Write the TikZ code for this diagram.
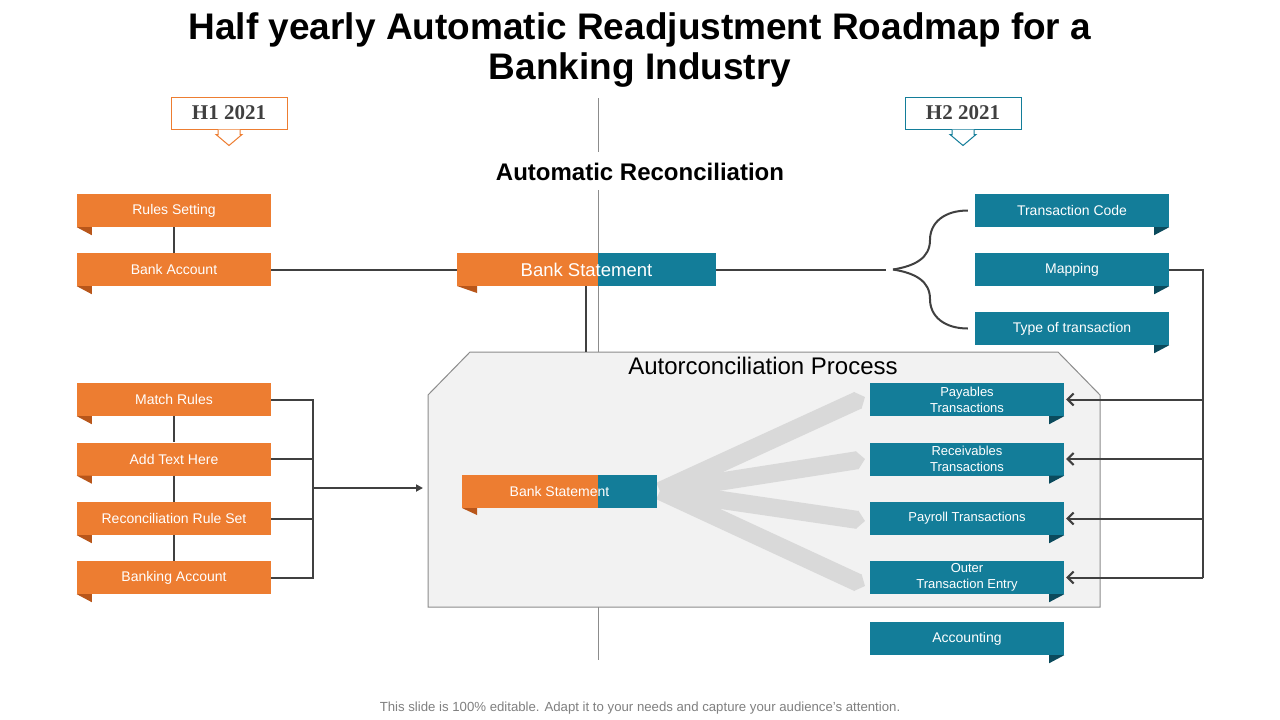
\documentclass[tikz,border=0pt]{standalone}
\usepackage{fontspec}
\setmainfont{Liberation Sans}
\newfontfamily\serifH{Liberation Serif}
\usetikzlibrary{arrows.meta,calc}
\definecolor{orgA}{HTML}{ED7D31}
\definecolor{orgD}{HTML}{B8561A}
\definecolor{tealA}{HTML}{137D99}
\definecolor{tealD}{HTML}{0B4A5C}
\definecolor{lineC}{HTML}{404040}
\definecolor{procF}{HTML}{F2F2F2}
\definecolor{procB}{HTML}{8C8C8C}
\definecolor{fanC}{HTML}{D9D9D9}
\tikzset{
  obox/.style={fill=orgA,text=white,minimum width=194pt,minimum height=33pt,inner sep=0pt,font=\fontsize{14}{16}\selectfont,align=center},
  tbox/.style={fill=tealA,text=white,minimum width=194pt,minimum height=33pt,inner sep=0pt,font=\fontsize{14}{16}\selectfont,align=center},
  conn/.style={draw=lineC,line width=2pt},
  fan/.style={draw=fanC,line width=18pt,-{Triangle[length=8pt,width=18pt]}},
  yearbox/.style={fill=white,line width=1pt,minimum width=116pt,minimum height=32pt,inner sep=0pt,font=\serifH\bfseries\fontsize{21}{22}\selectfont,text=lineC}
}
\begin{document}
\begin{tikzpicture}[x=1pt,y=-1pt]
\useasboundingbox (0,0) rectangle (1280,720);
\fill[white] (0,0) rectangle (1280,720);
% centre divider
\draw[procB,line width=1pt] (598,98) -- (598,152);
\draw[procB,line width=1pt] (598,190) -- (598,660);
% title
\node[font=\bfseries\fontsize{37}{40}\selectfont,align=center] (title) at (640,50) {Half yearly Automatic Readjustment Roadmap for a\\Banking Industry};
% year labels
\node[yearbox,draw=orgA] (h1) at (229,113) {H1 2021};
\draw[orgA,fill=white,line width=1pt] ($(h1.south)+(-11,0)$) -- ++(0,5) -- ++(-2,0) -- ($(h1.south)+(0,16)$) -- ($(h1.south)+(13,5)$) -- ++(-2,0) -- ++(0,-5);
\node[yearbox,draw=tealA] (h2) at (963,113) {H2 2021};
\draw[tealA,fill=white,line width=1pt] ($(h2.south)+(-11,0)$) -- ++(0,5) -- ++(-2,0) -- ($(h2.south)+(0,16)$) -- ($(h2.south)+(13,5)$) -- ++(-2,0) -- ++(0,-5);
\node[font=\bfseries\fontsize{24}{28}\selectfont] (ar) at (640,172) {Automatic Reconciliation};
% process box
\draw[procB,fill=procF,line width=1pt] (428,395) -- (470,352) -- (1058,352) -- (1100,395) -- (1100,607) -- (428,607) -- cycle;
\node[font=\fontsize{24}{28}\selectfont] (pt) at (763,366) {Autorconciliation Process};
% left orange boxes
\node[obox] (rs) at (174,210.5) {Rules Setting};
\node[obox] (ba) at (174,269.5) {Bank Account};
\node[obox] (mr) at (174,399.5) {Match Rules};
\node[obox] (at) at (174,459) {Add Text Here};
\node[obox] (rr) at (174,518.5) {Reconciliation Rule Set};
\node[obox] (bk) at (174,577.5) {Banking Account};
\foreach \n in {rs,ba,mr,at,rr,bk}{
  \fill[orgD] (\n.south west) -- ++(15,0) -- ++(0,8) -- cycle;
}
% right teal boxes
\node[tbox] (tc) at (1072,210.5) {Transaction Code};
\node[tbox] (mp) at (1072,269.5) {Mapping};
\node[tbox] (tt) at (1072,328.5) {Type of transaction};
\node[tbox,font=\fontsize{13}{16}\selectfont] (pay) at (967,399.5) {Payables\\Transactions};
\node[tbox,font=\fontsize{13}{16}\selectfont] (rec) at (967,459) {Receivables\\Transactions};
\node[tbox,font=\fontsize{13}{16}\selectfont] (pyr) at (967,518.5) {Payroll Transactions};
\node[tbox,font=\fontsize{13}{16}\selectfont] (out) at (967,577.5) {Outer\\Transaction Entry};
\node[tbox] (acc) at (967,638.5) {Accounting};
\foreach \n in {tc,mp,tt,pay,rec,pyr,out,acc}{
  \fill[tealD] (\n.south east) -- ++(-15,0) -- ++(0,8) -- cycle;
}
% top bank statement
\fill[orgA] (457,253) rectangle (598,286);
\fill[tealA] (598,253) rectangle (716,286);
\fill[orgD] (457,286) -- (477,286) -- (477,293) -- cycle;
\node[minimum width=259pt,minimum height=33pt,inner sep=0pt,text=white,font=\fontsize{18.5}{20}\selectfont] (bs) at (586.5,269.5) {Bank Statement};
% inner bank statement
\coordinate (fo) at (660,491);
\foreach \n/\y in {pay/397,rec/459,pyr/521,out/586}{
  \draw[fan] (fo) -- (865,\y);
}
\fill[orgA] (462,475) rectangle (598,508);
\fill[tealA] (598,475) rectangle (657,508);
\fill[orgD] (462,508) -- (477,508) -- (477,515) -- cycle;
\node[minimum width=195pt,minimum height=33pt,inner sep=0pt,text=white,font=\fontsize{14}{16}\selectfont] (bs2) at (559.5,491.5) {Bank Statement};
% connectors
\draw[conn] (rs.south) -- (ba.north);
\draw[conn] (mr.south) -- (at.north);
\draw[conn] (at.south) -- (rr.north);
\draw[conn] (rr.south) -- (bk.north);
\draw[conn] (ba.east) -- (bs.west);
\coordinate (btip) at (893,269.5);
\draw[conn] (bs.east) -- ([xshift=-7pt]btip);
\draw[conn] (btip) .. controls (915,266) and (930,258) .. (930,240) .. controls (930,222) and (945,210.5) .. ([xshift=-7pt]tc.west);
\draw[conn] (btip) .. controls (915,273) and (930,281) .. (930,299) .. controls (930,317) and (945,328.5) .. ([xshift=-7pt]tt.west);
\coordinate (ptop) at (586,352);
\draw[conn] (bs.south -| ptop) -- (ptop);
\coordinate (lb) at (313,488);
\coordinate (pl) at (423,488);
\foreach \n in {mr,at,rr,bk}{ \draw[conn] (\n.east) -| (lb); }
\draw[conn,-{Triangle[length=7pt,width=7pt]}] (lb) -- (pl);
\coordinate (rb) at (1203,577.5);
\draw[conn] (mp.east) -| (rb);
\foreach \n in {pay,rec,pyr,out}{
  \draw[conn,-{Straight Barb[length=6pt,width=12pt]}] (\n.east -| rb) -- ([xshift=2pt]\n.east);
}
% footer
\node[text=gray,font=\fontsize{13.2}{15}\selectfont] (ft) at (640,708) {This slide is 100\% editable. Adapt it to your needs and capture your audience's attention.};
\end{tikzpicture}
\end{document}
